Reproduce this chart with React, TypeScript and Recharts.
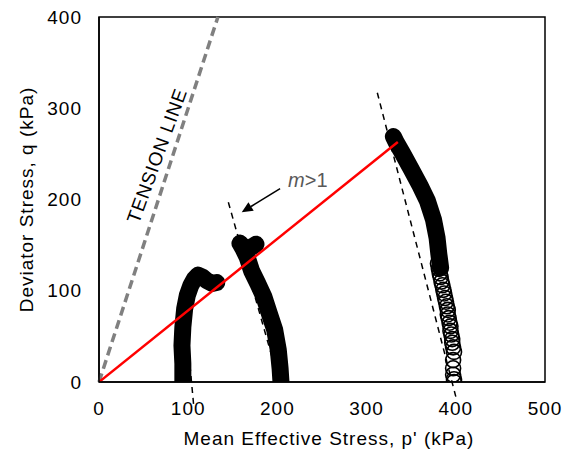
import React from 'react';
import {
  ComposedChart,
  Line,
  Scatter,
  XAxis,
  YAxis,
  ReferenceLine,
  ReferenceDot,
  ReferenceArea,
} from 'recharts';

const FONT = '"Liberation Sans", Arial, sans-serif';

// stress paths, p' and q in kPa
const test100P = [94, 94, 93, 94, 96, 99, 103, 107, 111, 116, 121, 127, 132];
const test100Q = [0, 20, 40, 60, 80, 95, 106, 113, 117, 115, 111, 108, 109];

const test200P = [204, 203, 201, 197, 191, 185, 178, 171, 166, 161, 158, 163, 168, 173, 176];
const test200Q = [0, 15, 35, 57, 75, 93, 108, 122, 137, 147, 152, 147, 146, 149, 151];

// 400 kPa test: dense upper part
const test400P = [383, 381, 379, 375, 368, 360, 349, 340, 333, 330];
const test400Q = [125, 140, 158, 178, 199, 215, 235, 251, 263, 269];

// 400 kPa test: sparse points near the start (drawn as open circles)
const test400OpenP = [398, 398, 397, 397, 397, 398, 397, 396, 396, 395, 394, 394, 393, 392, 391, 391, 390, 389, 388, 387, 386, 385, 384, 383, 382, 381, 380];
const test400OpenQ = [0, 3, 8, 15, 24, 33, 38, 43, 47, 52, 56, 61, 65, 70, 74, 79, 83, 88, 92, 97, 101, 106, 110, 115, 119, 124, 130];

// reference lines
const redLineP = [0, 335];
const redLineQ = [0, 263];
const tensionP = [0, 133.3];
const tensionQ = [0, 400];
const slope100P = [106, 98];
const slope100Q = [-24, 60];
const slope200P = [145, 199];
const slope200Q = [197, 10];
const slope400P = [312, 400];
const slope400Q = [317, -16];
const arrowP = [203, 160];
const arrowQ = [212, 186];

const xTicks = [0, 100, 200, 300, 400, 500];
const yTicks = [0, 100, 200, 300, 400];

const zip = (ps: number[], qs: number[]) => ps.map((p, i) => ({ p, q: qs[i] }));
const seg = (ps: number[], qs: number[]) => [
  { x: ps[0], y: qs[0] },
  { x: ps[1], y: qs[1] },
];

const Arrow = (props: any) => {
  const { x1, y1, x2, y2 } = props;
  const ang = Math.atan2(y2 - y1, x2 - x1);
  const len = 11;
  const w = 5;
  const bx = x2 - len * Math.cos(ang);
  const by = y2 - len * Math.sin(ang);
  const px = -Math.sin(ang) * w;
  const py = Math.cos(ang) * w;
  return (
    <g>
      <line x1={x1} y1={y1} x2={bx} y2={by} stroke="#000" strokeWidth={1.5} />
      <polygon points={`${x2},${y2} ${bx + px},${by + py} ${bx - px},${by - py}`} fill="#000" />
    </g>
  );
};

const YTitle = (props: any) => {
  const vb = props.viewBox;
  const x = vb.x + 33;
  const y = vb.y + vb.height / 2;
  return (
    <text
      x={x}
      y={y}
      transform={`rotate(-90 ${x} ${y})`}
      textAnchor="middle"
      fontFamily={FONT}
      fontSize={19}
      letterSpacing={1}
      fill="#000"
    >
      Deviator Stress, q (kPa)
    </text>
  );
};

export default function App() {
  return (
    <div style={{ position: 'absolute', left: 0, top: 0, background: '#fff' }}>
      <ComposedChart
        width={576}
        height={451}
        margin={{ top: 17, right: 31, bottom: 0, left: 0 }}
      >
        <XAxis
          type="number"
          dataKey="p"
          domain={[0, 500]}
          ticks={xTicks}
          interval={0}
          allowDataOverflow
          height={69}
          tickLine={false}
          tickSize={0}
          tickMargin={20}
          axisLine={{ stroke: '#000', strokeWidth: 1.5 }}
          tick={{ fill: '#000', fontSize: 19, fontFamily: FONT, letterSpacing: 1 }}
          label={{
            value: "Mean Effective Stress, p' (kPa)",
            position: 'insideBottom',
            offset: 6,
            dx: 7,
            fill: '#000',
            fontSize: 19,
            fontFamily: FONT,
            letterSpacing: 1,
          }}
        />
        <YAxis
          type="number"
          dataKey="q"
          domain={[0, 400]}
          ticks={yTicks}
          interval={0}
          allowDataOverflow
          width={99}
          tickLine={false}
          tickSize={0}
          tickMargin={17}
          axisLine={{ stroke: '#000', strokeWidth: 1.5 }}
          tick={{ fill: '#000', fontSize: 19, fontFamily: FONT, letterSpacing: 1 }}
          label={{ content: <YTitle /> }}
        />

        <ReferenceLine
          segment={seg(tensionP, tensionQ)}
          ifOverflow="visible"
          stroke="#808080"
          strokeWidth={3.5}
          strokeDasharray="9 5"
        />
        <ReferenceLine segment={seg(slope100P, slope100Q)} ifOverflow="visible" stroke="#000" strokeWidth={1.5} strokeDasharray="6 5" />
        <ReferenceLine segment={seg(slope200P, slope200Q)} ifOverflow="visible" stroke="#000" strokeWidth={1.5} strokeDasharray="6 5" />
        <ReferenceLine segment={seg(slope400P, slope400Q)} ifOverflow="visible" stroke="#000" strokeWidth={1.5} strokeDasharray="6 5" />

        <Line data={zip(test100P, test100Q)} dataKey="q" type="linear" stroke="#000" strokeWidth={17} strokeLinecap="round" strokeLinejoin="round" dot={false} isAnimationActive={false} />
        <Line data={zip(test200P, test200Q)} dataKey="q" type="linear" stroke="#000" strokeWidth={17} strokeLinecap="round" strokeLinejoin="round" dot={false} isAnimationActive={false} />
        <Line data={zip(test400P, test400Q)} dataKey="q" type="linear" stroke="#000" strokeWidth={17} strokeLinecap="round" strokeLinejoin="round" dot={false} isAnimationActive={false} />
        <Scatter
          data={zip(test400OpenP, test400OpenQ)}
          dataKey="q"
          isAnimationActive={false}
          shape={(props: any) => (
            <circle cx={props.cx} cy={props.cy} r={7.5} fill="none" stroke="#000" strokeWidth={1.6} />
          )}
        />

        <Line data={zip(redLineP, redLineQ)} dataKey="q" type="linear" stroke="#ff0000" strokeWidth={2.5} dot={false} isAnimationActive={false} />

        <ReferenceLine segment={seg(arrowP, arrowQ)} ifOverflow="visible" shape={<Arrow />} />

        <ReferenceDot
          x={212}
          y={221}
          ifOverflow="visible"
          shape={(props: any) => (
            <text x={props.cx} y={props.cy + 7} fontFamily={FONT} fontSize={20} fill="#595959">
              <tspan fontStyle="italic">m</tspan>
              <tspan>&gt;1</tspan>
            </text>
          )}
        />
        <ReferenceDot
          x={65}
          y={248}
          ifOverflow="visible"
          shape={(props: any) => (
            <text
              x={props.cx}
              y={props.cy}
              transform={`rotate(-70 ${props.cx} ${props.cy})`}
              textAnchor="middle"
              dominantBaseline="central"
              fontFamily={FONT}
              fontSize={19}
              letterSpacing={0.8}
              fill="#000"
            >
              TENSION LINE
            </text>
          )}
        />

        <ReferenceArea x1={0} x2={500} y1={0} y2={400} fill="none" stroke="#000" strokeWidth={1.5} ifOverflow="visible" />
      </ComposedChart>
    </div>
  );
}
